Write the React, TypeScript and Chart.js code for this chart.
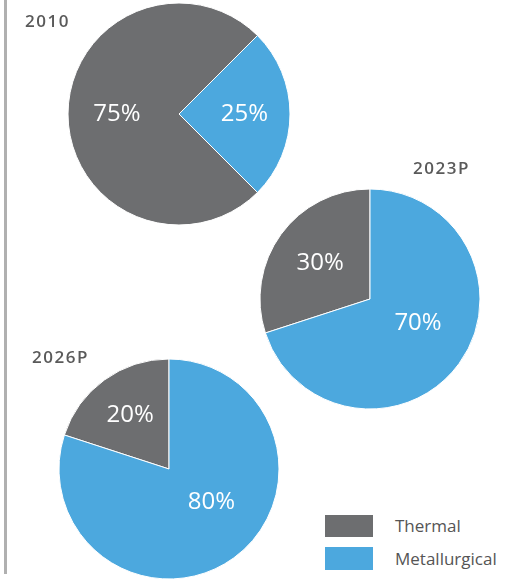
import React, { useEffect, useRef } from "react";
import { Chart, registerables } from "chart.js";

Chart.register(...registerables);

const categories = ["Thermal", "Metallurgical"];
const years = ["2010", "2023P", "2026P"];
const thermal = [75, 30, 20];
const metallurgical = [25, 70, 80];

const GRAY = "#6d6e70";
const BLUE = "#4ca8de";
const FONT = "'Open Sans', 'Noto Sans', sans-serif";

// label placement per slice: [angle in degrees (canvas, from east) or null for slice middle, distance as fraction of radius]
type LabelPlace = [number | null, number];

const pctLabels = {
  id: "pctLabels",
  afterDatasetsDraw(chart: any, _args: any, opts: any) {
    const ctx = chart.ctx;
    const meta = chart.getDatasetMeta(0);
    const data = chart.data.datasets[0].data as number[];
    const places: LabelPlace[] = opts.places || [];
    ctx.save();
    ctx.fillStyle = "#ffffff";
    ctx.font = `24px ${FONT}`;
    ctx.textAlign = "center";
    ctx.textBaseline = "middle";
    meta.data.forEach((arc: any, i: number) => {
      const p = arc.getProps(["x", "y", "startAngle", "endAngle", "outerRadius"], true);
      const place = places[i] || [null, 0.57];
      const ang = place[0] === null ? (p.startAngle + p.endAngle) / 2 : (place[0] * Math.PI) / 180;
      const r = p.outerRadius * place[1];
      ctx.fillText(`${data[i]}%`, p.x + Math.cos(ang) * r, p.y + Math.sin(ang) * r);
    });
    ctx.restore();
  },
};

function Pie({
  idx,
  cx,
  cy,
  r,
  rotation,
  places,
}: {
  idx: number;
  cx: number;
  cy: number;
  r: number;
  rotation: number;
  places: LabelPlace[];
}) {
  const ref = useRef<HTMLCanvasElement>(null);
  const size = 240;
  useEffect(() => {
    const chart = new Chart(ref.current!, {
      type: "pie",
      data: {
        labels: categories,
        datasets: [
          {
            data: [thermal[idx], metallurgical[idx]],
            backgroundColor: [GRAY, BLUE],
            borderColor: "#ffffff",
            borderWidth: 1,
            radius: r,
          } as any,
        ],
      },
      options: {
        responsive: false,
        animation: false,
        rotation,
        layout: { padding: 0 },
        plugins: {
          legend: { display: false },
          tooltip: { enabled: false },
          pctLabels: { places },
        } as any,
      },
      plugins: [pctLabels],
    });
    return () => chart.destroy();
  }, []);
  return (
    <canvas
      ref={ref}
      width={size}
      height={size}
      style={{ position: "absolute", left: cx - size / 2, top: cy - size / 2, width: size, height: size }}
    />
  );
}

const yearStyle: React.CSSProperties = {
  position: "absolute",
  fontFamily: FONT,
  fontSize: 17,
  lineHeight: "17px",
  fontWeight: 600,
  letterSpacing: 1.5,
  color: "#5a5a5a",
  whiteSpace: "nowrap",
};

const legendText: React.CSSProperties = {
  position: "absolute",
  fontFamily: FONT,
  fontSize: 17,
  lineHeight: "20px",
  color: "#555555",
  whiteSpace: "nowrap",
};

export default function App() {
  return (
    <div
      style={{
        position: "absolute",
        left: 0,
        top: 0,
        width: 528,
        height: 579,
        overflow: "hidden",
        background: "#ffffff",
      }}
    >
      <div style={{ position: "absolute", left: 4, top: 0, width: 3, height: 574, background: "#b0b0b0" }} />
      <Pie idx={0} cx={179} cy={114} r={111} rotation={135} places={[[null, 0.56], [null, 0.59]]} />
      <Pie idx={1} cx={370} cy={299} r={110} rotation={-108} places={[[null, 0.56], [27, 0.49]]} />
      <Pie idx={2} cx={169} cy={469} r={110} rotation={-72} places={[[null, 0.6], [38, 0.49]]} />
      <div style={{ ...yearStyle, left: 25, top: 12 }}>{years[0]}</div>
      <div style={{ ...yearStyle, left: 413, top: 159 }}>{years[1]}</div>
      <div style={{ ...yearStyle, left: 32, top: 348 }}>{years[2]}</div>
      <div style={{ position: "absolute", left: 325, top: 515, width: 48, height: 22, background: GRAY }} />
      <div style={{ position: "absolute", left: 325, top: 547, width: 48, height: 23, background: BLUE }} />
      <div style={{ ...legendText, left: 395, top: 516 }}>{categories[0]}</div>
      <div style={{ ...legendText, left: 395, top: 549 }}>{categories[1]}</div>
    </div>
  );
}
